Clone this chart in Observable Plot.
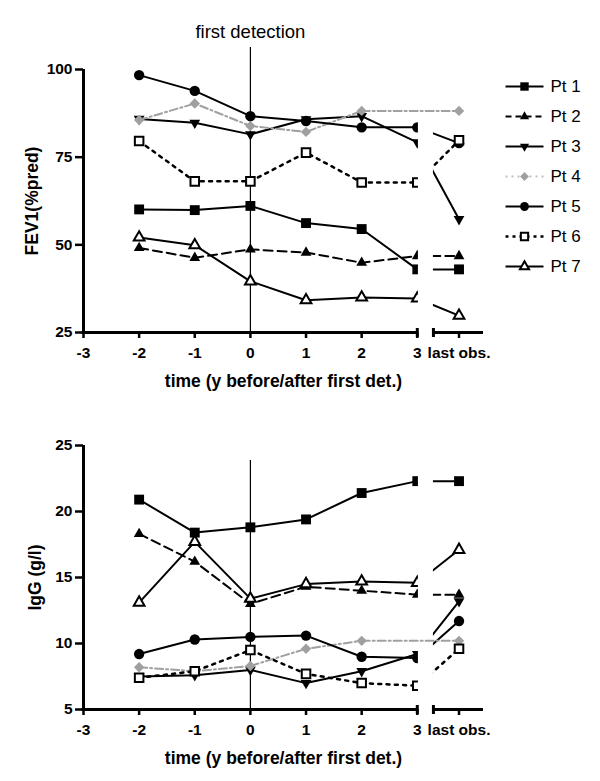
<!DOCTYPE html>
<html><head><meta charset="utf-8">
<script src="https://cdn.jsdelivr.net/npm/d3@7"></script>
<script src="https://cdn.jsdelivr.net/npm/@observablehq/plot@0.6"></script>
<style>
body{margin:0;background:#fff;}
#wrap{position:relative;width:600px;height:781px;overflow:hidden;background:#fff;font-family:"Liberation Sans",Arial,sans-serif;}
#wrap > svg, #wrap > figure, #wrap > div{position:absolute;margin:0;}
</style></head><body><div id="wrap"></div>
<script>
// ---------- data ----------
const patients = ["Pt 1","Pt 2","Pt 3","Pt 4","Pt 5","Pt 6","Pt 7"];
const years = [-2,-1,0,1,2,3];
const xTickValues = [-3,-2,-1,0,1,2,3];
const lastObsLabel = "last obs.";
const fev1Ticks = [25,50,75,100];
const iggTicks = [5,10,15,20,25];
const xTitle = "time (y before/after first det.)";
const fev1Title = "FEV1(%pred)";
const iggTitle = "IgG (g/l)";
const annotation = "first detection";

// FEV1 (% predicted), years -2..3, then last observation
const fev1Pt1 = [60.1, 59.9, 61.1, 56.2, 54.5, 43.0];
const fev1Pt2 = [49.1, 46.3, 48.7, 47.8, 44.9, 46.8];
const fev1Pt3 = [85.9, 84.8, 81.5, 85.8, 86.7, 79.2];
const fev1Pt4 = [85.6, 90.3, 83.9, 82.2, 88.2, null];
const fev1Pt5 = [98.4, 93.9, 86.7, 85.3, 83.5, 83.5];
const fev1Pt6 = [79.6, 68.1, 68.1, 76.3, 67.8, 67.8];
const fev1Pt7 = [52.1, 49.9, 39.6, 34.2, 35.0, 34.7];
const fev1Last = [43.0, 46.8, 57.3, 88.2, 79.0, 79.8, 29.8];

// IgG (g/l)
const iggPt1 = [20.9, 18.4, 18.8, 19.4, 21.4, 22.3];
const iggPt2 = [18.3, 16.2, 13.0, 14.3, 14.0, 13.7];
const iggPt3 = [7.5, 7.6, 8.0, 7.0, 7.9, 9.2];
const iggPt4 = [8.2, 7.9, 8.3, 9.6, 10.2, null];
const iggPt5 = [9.2, 10.3, 10.5, 10.6, 9.0, 8.9];
const iggPt6 = [7.4, 7.9, 9.5, 7.7, 7.0, 6.8];
const iggPt7 = [13.1, 17.7, 13.4, 14.5, 14.7, 14.6];
const iggLast = [22.3, 13.7, 13.2, 10.2, 11.7, 9.6, 17.1];

// ---------- layout constants (axis break) ----------
const LAST = 3.75, X_MIN = -3, X_MAX = 4.19, BREAK_START = 3.02, BREAK_END = 3.29;

// ---------- symbols ----------
const R = s => Math.sqrt(s / Math.PI);
const symSquare = {draw(c, s){const h = R(s)*0.95; c.moveTo(-h,-h); c.lineTo(h,-h); c.lineTo(h,h); c.lineTo(-h,h); c.closePath();}};
const symTriUp = {draw(c, s){const r = R(s); c.moveTo(0,-1.3*r); c.lineTo(1.12*r,0.65*r); c.lineTo(-1.12*r,0.65*r); c.closePath();}};
const symTriDown = {draw(c, s){const r = R(s); c.moveTo(0,1.3*r); c.lineTo(1.12*r,-0.65*r); c.lineTo(-1.12*r,-0.65*r); c.closePath();}};
const symDiamond = {draw(c, s){const r = R(s); c.moveTo(0,-r); c.lineTo(r,0); c.lineTo(0,r); c.lineTo(-r,0); c.closePath();}};
const symCircle = {draw(c, s){const r = R(s); c.moveTo(r,0); c.arc(0,0,r,0,2*Math.PI);}};
const symVBar = {draw(c, s){const r = R(s); c.moveTo(0,-r); c.lineTo(0,r);}};

const GREY = "#a0a0a0";
const styles = [
  {stroke:"#000", dash:null, sw:2, symbol:symSquare, fill:"#000", mstroke:"none", r:5.2},
  {stroke:"#000", dash:"9,5", sw:2, symbol:symTriUp, fill:"#000", mstroke:"none", r:4.8},
  {stroke:"#000", dash:null, sw:2, symbol:symTriDown, fill:"#000", mstroke:"none", r:4.8},
  {stroke:GREY, dash:"8,3,2,3", sw:2, symbol:symDiamond, fill:GREY, mstroke:"none", r:5.2},
  {stroke:"#000", dash:null, sw:2, symbol:symCircle, fill:"#000", mstroke:"none", r:5.2},
  {stroke:"#000", dash:"3,5.3", sw:2.5, symbol:symSquare, fill:"#fff", mstroke:"#000", r:4.5},
  {stroke:"#000", dash:null, sw:2, symbol:symTriUp, fill:"#fff", mstroke:"#000", r:4.8}
];

function buildRows(series, last){
  const rows = [];
  patients.forEach((p, i) => {
    series[i].forEach((v, j) => { if (v != null) rows.push({p, x: years[j], v, kind: "main"}); });
    rows.push({p, x: LAST, v: last[i], kind: "last"});
  });
  return rows;
}

function chart(cfg){
  const rows = buildRows(cfg.series, cfg.last);
  const marks = [];
  marks.push(Plot.ruleX([0], {x: d => d, stroke: "#000", strokeWidth: 1.2, insetTop: cfg.ruleInsetTop}));
  const after = [];
  patients.forEach((p, i) => {
    const st = styles[i];
    const main = rows.filter(d => d.p === p && d.kind === "main");
    const lastRow = rows.filter(d => d.p === p && d.kind === "last");
    const seg = [main[main.length - 1], lastRow[0]];
    const lineOpts = {x: "x", y: "v", stroke: st.stroke, strokeWidth: st.sw, strokeDasharray: st.dash, strokeLinejoin: "round"};
    marks.push(Plot.line(main, lineOpts));
    const segMark = Plot.line(seg, lineOpts);
    if (i === 3) after.push(segMark); else marks.push(segMark);
    marks.push(Plot.dot(main.concat(lastRow), {x: "x", y: "v", symbol: st.symbol, r: st.r, fill: st.fill, stroke: st.mstroke, strokeWidth: 2}));
  });
  // axis break mask
  marks.push(Plot.rect([0], {x1: BREAK_START, x2: BREAK_END, fill: "#fff"}));
  marks.push(...after);
  const y0 = cfg.yDomain[0], y1 = cfg.yDomain[1];
  // axis lines
  marks.push(Plot.ruleX([X_MIN], {x: d => d, y1: y0, y2: y1, stroke: "#000", strokeWidth: 3}));
  marks.push(Plot.ruleY([y0], {y: d => d, x1: X_MIN - 0.027, x2: 3, stroke: "#000", strokeWidth: 3}));
  marks.push(Plot.ruleY([y0], {y: d => d, x1: BREAK_END, x2: X_MAX, stroke: "#000", strokeWidth: 3}));
  marks.push(Plot.dot([3, BREAK_END], {x: d => d, y: y0, symbol: symVBar, r: 4.5, stroke: "#000", strokeWidth: 3}));
  marks.push(Plot.axisY({ticks: cfg.ticks, tickSize: 8, tickPadding: 3, label: null, fontSize: 15.5, fontWeight: "bold", strokeWidth: 2.5, tickFormat: d => String(d)}));
  marks.push(Plot.axisX({ticks: [...xTickValues, LAST], tickFormat: d => d === LAST ? lastObsLabel : String(d), tickSize: 6, tickPadding: 8, label: null, fontSize: 15.5, fontWeight: "bold", strokeWidth: 2.5}));
  marks.push(Plot.text([xTitle], {text: d => d, frameAnchor: "bottom", lineAnchor: "middle", dy: 49, fontSize: 17.5, fontWeight: "bold"}));
  marks.push(Plot.text([cfg.yTitle], {text: d => d, frameAnchor: "left", textAnchor: "middle", lineAnchor: "middle", rotate: -90, dx: cfg.yTitleDx, fontSize: 17.5, fontWeight: "bold"}));
  if (cfg.annotate) marks.push(Plot.text([annotation], {text: d => d, x: 0, frameAnchor: "top", lineAnchor: "middle", dy: -37, fontSize: 18.5, fontWeight: "normal"}));
  return Plot.plot({
    width: 600, height: cfg.height,
    marginLeft: 83, marginRight: 117, marginTop: cfg.marginTop, marginBottom: cfg.marginBottom,
    x: {domain: [X_MIN, X_MAX], label: null},
    y: {domain: cfg.yDomain, label: null},
    style: {fontFamily: "'Liberation Sans', Arial, sans-serif", background: "transparent", overflow: "visible"},
    marks
  });
}

const wrap = document.getElementById("wrap");
const top1 = chart({series: [fev1Pt1, fev1Pt2, fev1Pt3, fev1Pt4, fev1Pt5, fev1Pt6, fev1Pt7], last: fev1Last,
  ticks: fev1Ticks, yDomain: [25, 100], height: 390, marginTop: 69, marginBottom: 58,
  yTitle: fev1Title, yTitleDx: -51, ruleInsetTop: -22, annotate: true});
top1.style.top = "0px"; top1.style.left = "0px";
wrap.appendChild(top1);

const bot = chart({series: [iggPt1, iggPt2, iggPt3, iggPt4, iggPt5, iggPt6, iggPt7], last: iggLast,
  ticks: iggTicks, yDomain: [5, 25], height: 391, marginTop: 55, marginBottom: 72,
  yTitle: iggTitle, yTitleDx: -48, ruleInsetTop: 15, annotate: false});
bot.style.top = "390px"; bot.style.left = "0px";
wrap.appendChild(bot);

// legend
const legMarks = [];
patients.forEach((p, i) => {
  const st = styles[i];
  legMarks.push(Plot.link([p], {x1: 0, x2: 1, y1: d => d, y2: d => d, stroke: i === 3 ? "#c0c0c0" : st.stroke, strokeWidth: st.sw, strokeDasharray: i === 3 ? "2,4" : (i === 1 ? "6,4" : (i === 5 ? "3,4" : null))}));
  legMarks.push(Plot.dot([p], {x: 0.5, y: d => d, symbol: st.symbol, r: st.r * 0.85, fill: st.fill, stroke: st.mstroke, strokeWidth: 2}));
});
legMarks.push(Plot.text(patients, {x: 1, y: d => d, text: d => d, dx: 7, textAnchor: "start", fontSize: 17}));
const leg = Plot.plot({
  width: 105, height: 210, margin: 0,
  x: {domain: [0, 1], range: [10, 48], axis: null},
  y: {type: "point", domain: patients, range: [15, 197], padding: 0, axis: null},
  style: {fontFamily: "'Liberation Sans', Arial, sans-serif", background: "transparent", overflow: "visible"},
  marks: legMarks
});
leg.style.top = "70px"; leg.style.left = "495px";
wrap.appendChild(leg);
</script></body></html>
